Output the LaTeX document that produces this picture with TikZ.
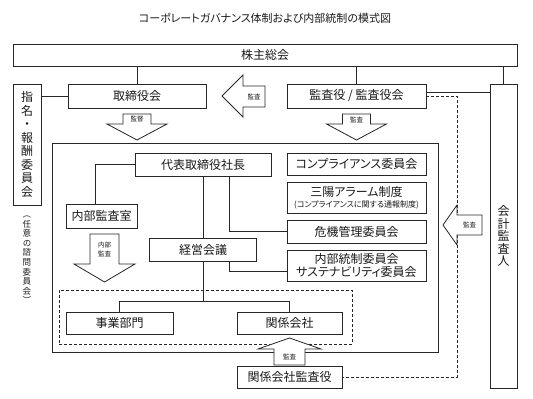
\documentclass[tikz,border=0pt]{standalone}
\usepackage{fontspec}
\setmainfont[RawFeature=+palt]{Noto Sans CJK JP}
\begin{document}
\begin{tikzpicture}[x=1pt,y=-1pt,
  ln/.style={draw=black!85, line width=0.8pt},
  box/.style={ln, rectangle, fill=white, inner sep=0pt, align=center, font=\fontsize{12}{14}\selectfont, text=black!90},
  barrow/.style={ln, fill=white, line join=miter},
  alab/.style={font=\fontsize{6.5}{9}\selectfont, inner sep=0pt, align=center, text=black!90},
  dsh/.style={draw=black!85, line width=0.8pt, dash pattern=on 3pt off 2pt}
]
\useasboundingbox (0,0) rectangle (533,399);
\node[font=\fontsize{11}{13}\selectfont, text=black!90] (title) at (265,18) {コーポレートガバナンス体制および内部統制の模式図};

% containers
\node[ln, rectangle, minimum width=386pt, minimum height=209pt, inner sep=0pt] (inner) at (245,247.5) {};
\node[dsh, rectangle, minimum width=293pt, minimum height=54pt, inner sep=0pt] (dbox) at (205.5,317) {};

% boxes
\node[box, minimum width=504pt, minimum height=22pt] (kabu) at (265,55) {株主総会};
\node[box, minimum width=28pt, minimum height=121pt, font=\fontsize{12}{13.5}\selectfont] (shimei) at (27,144.5) {指\\名\\・\\報\\酬\\委\\員\\会};
\node[align=center, inner sep=0pt, font=\fontsize{8.5}{9.6}\selectfont, text=black!90] (nini) at (27,260) {︵\\任\\意\\の\\諮\\問\\委\\員\\会\\︶};
\node[box, minimum width=138pt, minimum height=24pt] (tori) at (137,96) {取締役会};
\node[box, minimum width=139pt, minimum height=24pt] (kansa) at (356.5,96) {監査役 / 監査役会};
\node[box, minimum width=27pt, minimum height=304pt, font=\fontsize{12}{12.5}\selectfont] (kaikei) at (503.5,236) {会\\計\\監\\査\\人};

\node[box, minimum width=136pt, minimum height=23pt] (daihyo) at (203,164.5) {代表取締役社長};
\node[box, minimum width=139pt, minimum height=22pt] (comp) at (356.5,164) {コンプライアンス委員会};
\node[box, minimum width=139pt, minimum height=31pt] (sanyo) at (356.5,197.5) {三陽アラーム制度\\[-3pt]{\fontsize{8}{9}\selectfont (コンプライアンスに関する通報制度)}};
\node[box, minimum width=139pt, minimum height=23pt] (kiki) at (356.5,231.5) {危機管理委員会};
\node[box, minimum width=139pt, minimum height=31pt, font=\fontsize{12}{13}\selectfont] (naibu) at (356.5,265.5) {内部統制委員会\\サステナビリティ委員会};
\node[box, minimum width=71pt, minimum height=24pt] (nkansa) at (101.5,216) {内部監査室};
\node[box, minimum width=107pt, minimum height=23pt] (keiei) at (203,249.5) {経営会議};
\node[box, minimum width=107pt, minimum height=22pt] (jigyo) at (119.5,323) {事業部門};
\node[box, minimum width=105pt, minimum height=22pt] (kankei) at (289.5,323) {関係会社};
\node[box, minimum width=105pt, minimum height=22pt] (kkansa) at (289.5,377) {関係会社監査役};

% helper coordinates
\coordinate (dc) at (457,96);
\coordinate (hb) at (0,301);

% connectors
\draw[ln] (tori.north |- kabu.south) -- (tori.north);
\draw[ln] (kansa.north |- kabu.south) -- (kansa.north);
\draw[ln] (kaikei.north |- kabu.south) -- (kaikei.north);
\draw[ln] (shimei.east |- tori.west) -- (tori.west);
\draw[ln] ([yshift=4pt]kansa.east) -- ([yshift=4pt]kansa.east -| kaikei.west);
\draw[dsh] (kansa.east) -- (dc) -- (dc |- kkansa.east) -- (kkansa.east);
\draw[ln] (daihyo.west) -| ([xshift=-6.5pt]nkansa.north);
\draw[ln] (daihyo.south) -- (keiei.north);
\draw[ln] ([xshift=26pt]daihyo.south) |- (kiki.west);
\draw[ln] (keiei.south) -- (keiei.south |- hb);
\draw[ln] ([xshift=26pt]keiei.south) |- ([yshift=-5.5pt]naibu.west);
\draw[ln] (jigyo.north) |- (kankei.north |- hb) -- (kankei.north);

% block arrows
\draw[barrow] (222,96) -- (243,75) -- (243,86) -- (265,86) -- (265,107) -- (243,107) -- (243,117) -- cycle;
\node[alab] (a1) at (254,96.5) {監査};
\draw[barrow] (123,114) -- (151,114) -- (151,124) -- (167,124) -- (137,140) -- (107,124) -- (123,124) -- cycle;
\node[alab] (a2) at (137,119.5) {監督};
\draw[barrow] (342.5,114) -- (370.5,114) -- (370.5,124) -- (386.5,124) -- (356.5,140) -- (326.5,124) -- (342.5,124) -- cycle;
\node[alab] (a3) at (356.5,119.5) {監査};
\draw[barrow] (90,234) -- (119,234) -- (119,264) -- (135,264) -- (104.5,282) -- (74,264) -- (90,264) -- cycle;
\node[alab] (a4) at (104.5,249) {内部\\監査};
\draw[barrow] (443,225) -- (457,205) -- (457,215) -- (482,215) -- (482,235) -- (457,235) -- (457,245) -- cycle;
\node[alab] (a5) at (469.5,225) {監査};
\draw[barrow] (289.5,338) -- (321,349) -- (305,349) -- (305,365) -- (274,365) -- (274,349) -- (258,349) -- cycle;
\node[alab] (a6) at (289.5,357) {監査};
\end{tikzpicture}
\end{document}
